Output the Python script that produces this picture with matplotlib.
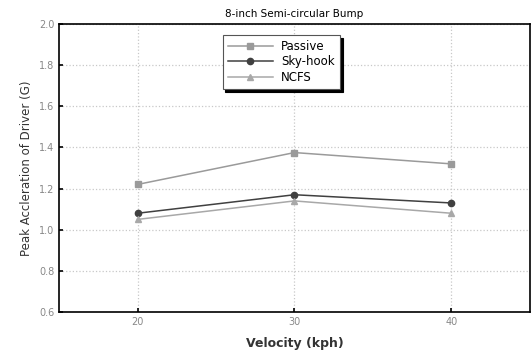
import matplotlib
matplotlib.use("Agg")
import matplotlib.pyplot as plt

velocity = [20, 30, 40]
passive = [1.22, 1.375, 1.32]
skyhook = [1.08, 1.17, 1.13]
ncfs = [1.05, 1.14, 1.08]
y_ticks = [0.6, 0.8, 1.0, 1.2, 1.4, 1.6, 1.8, 2.0]

# wider face stands in for the letter-spaced text of the original
plt.rcParams["font.family"] = ["DejaVu Sans"]

fig = plt.figure(figsize=(5.32, 3.56), dpi=100)
ax = fig.add_axes([0.111, 0.1236, 0.885, 0.809])

ax.plot(velocity, passive, color="#9a9a9a", lw=1.1, marker="s", ms=4, label="Passive")
ax.plot(velocity, skyhook, color="#404040", lw=1.1, marker="o", ms=4.5, label="Sky-hook")
ax.plot(velocity, ncfs, color="#a8a8a8", lw=1.1, marker="^", ms=4.5, label="NCFS")

ax.set_xlim(15, 45)
ax.set_ylim(0.6, 2.0)
ax.set_xticks(velocity)
ax.set_yticks(y_ticks)
ax.set_yticklabels([f"{v:.1f}" for v in y_ticks])
ax.tick_params(direction="in", length=3, width=1.2, labelsize=7, colors="black",
               labelcolor="#888888")
ax.grid(True, ls=":", color="#c8c8c8", lw=0.9)
for side in ax.spines.values():
    side.set_linewidth(1.2)

ax.set_title("8-inch Semi-circular Bump", fontsize=7.5, pad=5)
ax.set_xlabel("Velocity (kph)", fontsize=9, fontweight="bold", color="#333333", labelpad=7)
ax.set_ylabel("Peak Accleration of Driver (G)", fontsize=8.5, color="#333333")

leg = ax.legend(loc="upper left", bbox_to_anchor=(0.34, 0.975), fontsize=8.5,
                frameon=True, fancybox=False, shadow={"color": "black", "alpha": 1},
                edgecolor="#555555", handlelength=3.8, borderpad=0.45, labelspacing=0.2,
                handletextpad=0.7, borderaxespad=0.3)
leg.get_frame().set_linewidth(0.8)

fig.savefig("out.png", dpi=100)
